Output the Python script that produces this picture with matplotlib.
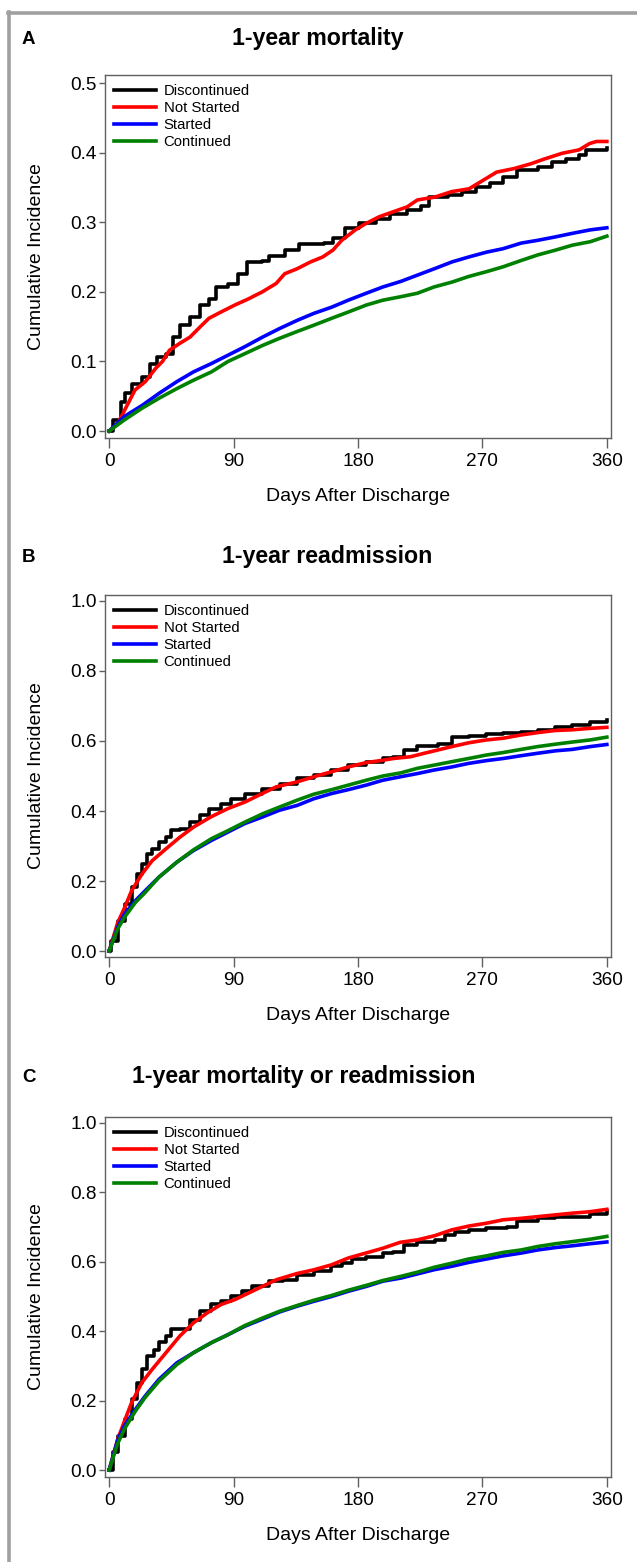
"""
Cumulative incidence curves after discharge: mortality, readmission and both.
"""

import matplotlib
matplotlib.use("Agg")
import matplotlib.pyplot as plt
from matplotlib.lines import Line2D

plt.rcParams["font.family"] = ["Liberation Sans", "DejaVu Sans"]

groups = ["Discontinued", "Not Started", "Started", "Continued"]
colors = ["black", "#ff0000", "#0000ff", "#008000"]

# ---- A: 1-year mortality ----
a_disc_days = [0, 2.5, 8.7, 11.2, 16.2, 23.7, 29.9, 34.9, 41.1, 46.1, 51.1, 58.5, 66, 72.2, 77.2,
               86, 93.4, 99.6, 110.9, 115.8, 127, 137, 155.7, 161.9, 170.6, 180.6, 193, 203, 215.5,
               225.4, 231.7, 245.4, 255.3, 265.3, 275.3, 285.2, 295.2, 310.1, 320.1, 330.1, 340, 345, 360]
a_disc = [0, 0.016, 0.042, 0.054, 0.068, 0.078, 0.097, 0.107, 0.11, 0.135, 0.152, 0.164, 0.181, 0.19,
          0.207, 0.211, 0.226, 0.243, 0.245, 0.251, 0.26, 0.268, 0.27, 0.277, 0.291, 0.299, 0.305,
          0.312, 0.318, 0.324, 0.336, 0.339, 0.344, 0.351, 0.356, 0.365, 0.375, 0.38, 0.387, 0.391,
          0.396, 0.404, 0.406]
a_notst_days = [0, 6.2, 11.2, 18.7, 26.2, 33.6, 38.6, 43.6, 51.1, 58.5, 66, 72.2, 80.9, 90.9, 100.9,
                110.8, 120.8, 127, 135.8, 145.7, 154.4, 161.9, 168.2, 178.1, 185.6, 195.5, 205.5,
                215.5, 223, 235.4, 247.9, 260.3, 270.3, 280.3, 292.7, 305.1, 315.1, 327.6, 340,
                347.5, 352.5, 360]
a_notst = [0, 0.011, 0.03, 0.059, 0.071, 0.09, 0.1, 0.116, 0.126, 0.135, 0.15, 0.162, 0.171, 0.181,
           0.19, 0.2, 0.212, 0.226, 0.233, 0.243, 0.25, 0.26, 0.274, 0.289, 0.298, 0.308, 0.315,
           0.322, 0.332, 0.336, 0.344, 0.348, 0.36, 0.372, 0.377, 0.384, 0.391, 0.399, 0.404, 0.413,
           0.416, 0.416]
a_grid_days = [0, 11, 24, 36, 49, 61, 74, 86, 98, 111, 123, 136, 148, 161, 173, 186, 198, 211, 223,
               235, 248, 260, 273, 285, 298, 310, 323, 335, 348, 360]
a_started = [0, 0.021, 0.037, 0.054, 0.071, 0.085, 0.097, 0.109, 0.121, 0.135, 0.147, 0.159, 0.169,
             0.178, 0.188, 0.198, 0.207, 0.215, 0.224, 0.233, 0.243, 0.25, 0.257, 0.262, 0.27, 0.274,
             0.279, 0.284, 0.289, 0.292]
a_cont = [0, 0.016, 0.033, 0.047, 0.061, 0.073, 0.085, 0.1, 0.111, 0.123, 0.133, 0.143, 0.152, 0.162,
          0.171, 0.181, 0.188, 0.193, 0.198, 0.207, 0.214, 0.222, 0.229, 0.236, 0.245, 0.253, 0.26,
          0.267, 0.272, 0.28]

# ---- B: 1-year readmission ----
b_disc_days = [0, 1.2, 6.2, 11.2, 16.2, 19.9, 23.7, 27.4, 31.1, 36.1, 41.1, 44.8, 51.1, 58.5, 66,
               72.2, 80.9, 88.4, 98.4, 110.8, 123.3, 135.8, 148.2, 160.7, 173.1, 185.6, 198, 205.5,
               213, 223, 237.9, 247.9, 260.3, 272.8, 285.2, 297.7, 310.1, 322.6, 335, 347.5, 360]
b_disc = [0, 0.029, 0.086, 0.134, 0.182, 0.22, 0.249, 0.278, 0.292, 0.311, 0.325, 0.345, 0.349,
          0.368, 0.388, 0.407, 0.421, 0.435, 0.45, 0.464, 0.478, 0.493, 0.502, 0.517, 0.531, 0.541,
          0.55, 0.555, 0.574, 0.586, 0.591, 0.612, 0.614, 0.62, 0.622, 0.627, 0.632, 0.641, 0.646,
          0.653, 0.66]
b_notst_days = [0, 6.2, 11.2, 16.2, 23.7, 31.1, 41.1, 51.1, 61, 73.5, 85.9, 98.4, 110.8, 120.8,
                135.8, 148.2, 160.7, 173.1, 185.6, 198, 205.5, 218, 228, 235.4, 247.9, 260.3, 272.8,
                285.2, 297.7, 310.1, 322.6, 335, 347.5, 360]
b_notst = [0, 0.081, 0.124, 0.172, 0.22, 0.258, 0.292, 0.325, 0.354, 0.383, 0.407, 0.426, 0.45,
           0.469, 0.483, 0.498, 0.512, 0.526, 0.538, 0.545, 0.55, 0.555, 0.565, 0.572, 0.584, 0.595,
           0.603, 0.608, 0.617, 0.624, 0.63, 0.632, 0.636, 0.639]
bc_grid_days = [0, 6, 11, 19, 26, 36, 49, 61, 74, 86, 98, 111, 123, 136, 148, 161, 173, 186, 198,
                211, 223, 235, 248, 260, 273, 285, 298, 310, 323, 335, 348, 360]
b_started = [0, 0.067, 0.105, 0.144, 0.172, 0.211, 0.254, 0.287, 0.316, 0.34, 0.364, 0.383, 0.402,
             0.416, 0.435, 0.45, 0.461, 0.474, 0.488, 0.498, 0.507, 0.517, 0.526, 0.536, 0.544, 0.55,
             0.558, 0.565, 0.572, 0.576, 0.584, 0.59]
b_cont = [0, 0.062, 0.096, 0.139, 0.167, 0.211, 0.254, 0.289, 0.321, 0.344, 0.368, 0.392, 0.411,
          0.431, 0.448, 0.461, 0.474, 0.488, 0.5, 0.509, 0.522, 0.531, 0.541, 0.55, 0.56, 0.567,
          0.576, 0.584, 0.591, 0.597, 0.603, 0.611]

# ---- C: 1-year mortality or readmission ----
c_disc_days = [0, 2.5, 6.2, 11.2, 16.2, 19.9, 23.7, 27.4, 32.4, 36.1, 41.1, 44.8, 51.1, 58.5, 66,
               73.5, 81, 88.4, 95.9, 103.4, 115.8, 125.8, 135.8, 148.2, 160.7, 168.2, 175.6, 185.6,
               198, 205.5, 213, 223, 235.4, 242.9, 250.4, 260.3, 272.8, 287.7, 295.2, 310.1, 322.6,
               335, 347.5, 360]
c_disc = [0, 0.051, 0.099, 0.146, 0.204, 0.252, 0.29, 0.328, 0.347, 0.368, 0.386, 0.405, 0.405,
          0.433, 0.457, 0.477, 0.486, 0.5, 0.515, 0.529, 0.544, 0.548, 0.563, 0.572, 0.587, 0.596,
          0.608, 0.615, 0.625, 0.627, 0.649, 0.658, 0.663, 0.678, 0.687, 0.692, 0.697, 0.7, 0.716,
          0.725, 0.728, 0.73, 0.738, 0.747]
c_notst_days = [0, 6.2, 11.2, 16.2, 23.7, 31.1, 41.1, 51.1, 61, 71, 81, 90.9, 100.9, 110.8, 120.8,
                135.8, 148.2, 160.7, 173.1, 185.6, 198, 210.5, 222.9, 235.4, 247.9, 260.3, 272.8,
                285.2, 297.7, 310.1, 322.6, 335, 347.5, 360]
c_notst = [0, 0.089, 0.142, 0.194, 0.252, 0.29, 0.338, 0.386, 0.424, 0.453, 0.477, 0.491, 0.51,
           0.529, 0.548, 0.566, 0.577, 0.591, 0.611, 0.625, 0.639, 0.656, 0.663, 0.675, 0.692, 0.703,
           0.711, 0.721, 0.725, 0.73, 0.735, 0.74, 0.744, 0.751]
c_started = [0, 0.084, 0.127, 0.175, 0.213, 0.261, 0.309, 0.338, 0.367, 0.39, 0.414, 0.435, 0.455,
             0.472, 0.486, 0.5, 0.515, 0.529, 0.544, 0.553, 0.565, 0.577, 0.587, 0.598, 0.608, 0.617,
             0.625, 0.634, 0.641, 0.646, 0.652, 0.657]
c_cont = [0, 0.075, 0.118, 0.17, 0.209, 0.256, 0.304, 0.338, 0.367, 0.39, 0.416, 0.438, 0.457,
          0.474, 0.489, 0.503, 0.518, 0.532, 0.546, 0.558, 0.57, 0.584, 0.596, 0.608, 0.617, 0.627,
          0.634, 0.644, 0.652, 0.658, 0.665, 0.673]

x_ticks = [0, 90, 180, 270, 360]

W, H = 637, 1562
fig = plt.figure(figsize=(W / 100, H / 100), dpi=100)

# gray frame on the left and top edge
frame = "#a0a0a0"
fig.add_artist(Line2D([9 / W, 9 / W], [0, 1 - 12 / H], color=frame, lw=2.6,
                      transform=fig.transFigure))
fig.add_artist(Line2D([7.5 / W, 1], [1 - 12.5 / H, 1 - 12.5 / H], color=frame, lw=2.6,
                      transform=fig.transFigure))


def draw_panel(top, bottom, letter, letter_y, title, title_x, ylim, yticks, series):
    ax = fig.add_axes([105 / W, 1 - bottom / H, 506 / W, (bottom - top) / H])
    for (days, vals, steps), name, col in zip(series, groups, colors):
        ax.plot(days, vals, color=col, lw=2.6, label=name,
                drawstyle="steps-post" if steps else "default")
    ax.set_xlim(-3, 363)
    ax.set_ylim(*ylim)
    ax.set_xticks(x_ticks)
    ax.set_yticks(yticks)
    ax.set_yticklabels([f"{t:.1f}" for t in yticks])
    for s in ax.spines.values():
        s.set_color("#606060")
        s.set_linewidth(1.0)
    ax.tick_params(axis="y", length=4, width=1, color="#606060", pad=2, labelsize=13.7)
    ax.tick_params(axis="x", length=7, width=1, color="#606060", pad=4, labelsize=13.7)
    ax.set_xlabel("Days After Discharge", fontsize=14, labelpad=13)
    ax.set_ylabel("Cumulative Incidence", fontsize=14, labelpad=18)
    ax.legend(loc="upper left", frameon=False, fontsize=10.7, handlelength=2.8,
              handletextpad=0.55, labelspacing=0.2, borderaxespad=0.2,
              bbox_to_anchor=(0.0, 1.0))
    fig.text(22 / W, 1 - letter_y / H, letter, fontsize=13.5, fontweight="bold",
             ha="left", va="center")
    fig.text(title_x / W, 1 - letter_y / H, title, fontsize=16.7, fontweight="bold",
             ha="center", va="center")
    return ax


draw_panel(75, 438, "A", 39, "1-year mortality", 318, (-0.010, 0.5115),
           [0.0, 0.1, 0.2, 0.3, 0.4, 0.5],
           [(a_disc_days, a_disc, True), (a_notst_days, a_notst, False),
            (a_grid_days, a_started, False), (a_grid_days, a_cont, False)])

draw_panel(595, 957, "B", 557, "1-year readmission", 327, (-0.017, 1.017),
           [0.0, 0.2, 0.4, 0.6, 0.8, 1.0],
           [(b_disc_days, b_disc, True), (b_notst_days, b_notst, False),
            (bc_grid_days, b_started, False), (bc_grid_days, b_cont, False)])

draw_panel(1117, 1477, "C", 1077, "1-year mortality or readmission", 304, (-0.02, 1.017),
           [0.0, 0.2, 0.4, 0.6, 0.8, 1.0],
           [(c_disc_days, c_disc, True), (c_notst_days, c_notst, False),
            (bc_grid_days, c_started, False), (bc_grid_days, c_cont, False)])

fig.savefig("out.png", dpi=100)
